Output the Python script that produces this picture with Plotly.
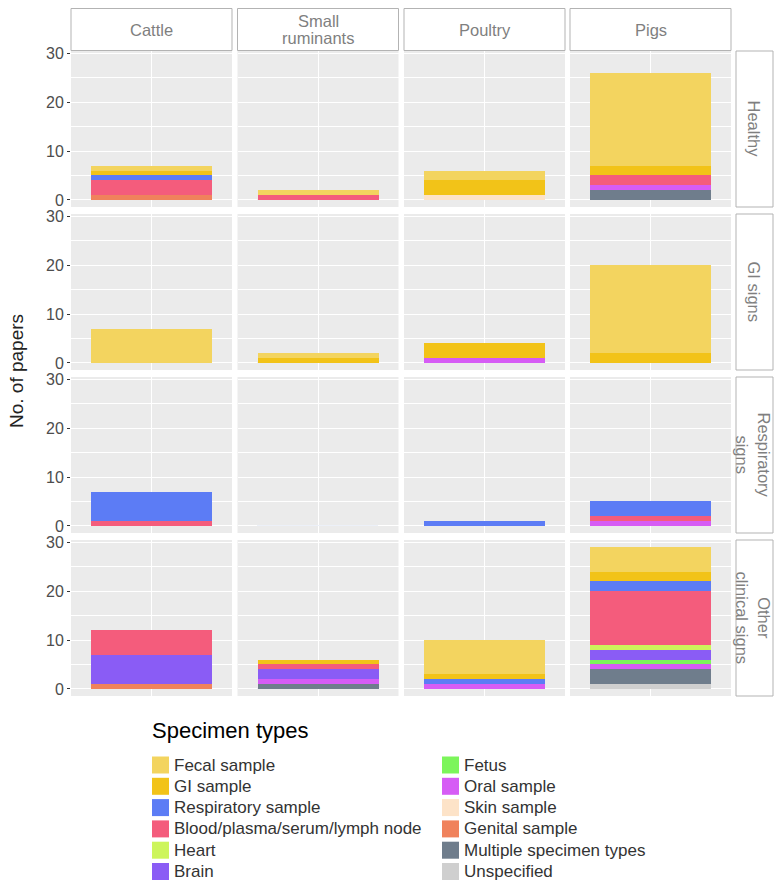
import plotly.graph_objects as go

W, H = 781, 886

species = [["Cattle"], ["Small", "ruminants"], ["Poultry"], ["Pigs"]]
conditions = ["Healthy", "GI signs", "Respiratory<br>signs", "Other<br>clinical signs"]

specimen_types = ["Fecal sample", "GI sample", "Respiratory sample",
                  "Blood/plasma/serum/lymph node", "Heart", "Brain", "Fetus",
                  "Oral sample", "Skin sample", "Genital sample",
                  "Multiple specimen types", "Unspecified"]
colors = ["#F3D45F", "#F2C318", "#5C7CF5", "#F45C7C", "#CDF55B", "#8A5CF5",
          "#7CF55B", "#D65CF5", "#FDE3C8", "#F0825C", "#6F7D8C", "#CFCFCF"]

# values ordered: Healthy(C,SR,Po,Pi), GI signs(...), Respiratory(...), Other(...)
fecal       = [1, 1, 2, 19,  7, 1, 0, 18,  0, 0, 0, 0,  0, 0, 7, 5]
gi          = [1, 0, 3, 2,   0, 1, 3, 2,   0, 0, 0, 0,  0, 1, 1, 2]
respiratory = [1, 0, 0, 0,   0, 0, 0, 0,   6, 0, 1, 3,  0, 0, 1, 2]
blood       = [3, 1, 0, 2,   0, 0, 0, 0,   1, 0, 0, 1,  5, 1, 0, 11]
heart       = [0, 0, 0, 0,   0, 0, 0, 0,   0, 0, 0, 0,  0, 0, 0, 1]
brain       = [0, 0, 0, 0,   0, 0, 0, 0,   0, 0, 0, 0,  6, 2, 0, 2]
fetus       = [0, 0, 0, 0,   0, 0, 0, 0,   0, 0, 0, 0,  0, 0, 0, 1]
oral        = [0, 0, 0, 1,   0, 0, 1, 0,   0, 0, 0, 1,  0, 1, 1, 1]
skin        = [0, 0, 1, 0,   0, 0, 0, 0,   0, 0, 0, 0,  0, 0, 0, 0]
genital     = [1, 0, 0, 0,   0, 0, 0, 0,   0, 0, 0, 0,  1, 0, 0, 0]
multiple    = [0, 0, 0, 2,   0, 0, 0, 0,   0, 0, 0, 0,  0, 1, 0, 3]
unspecified = [0, 0, 0, 0,   0, 0, 0, 0,   0, 0, 0, 0,  0, 0, 0, 1]
values = [fecal, gi, respiratory, blood, heart, brain, fetus, oral, skin,
          genital, multiple, unspecified]

y_ticks = [0, 10, 20, 30]

col_px = [(71, 232), (237.5, 398.5), (404, 565), (570, 731)]
row_px = [(51, 207), (214, 370), (377, 533), (540, 696)]

FONT = "Liberation Sans, Arial, sans-serif"

fig = go.Figure()
layout = {}
for r in range(4):
    for c in range(4):
        n = r * 4 + c + 1
        xk = "xaxis" if n == 1 else f"xaxis{n}"
        yk = "yaxis" if n == 1 else f"yaxis{n}"
        xs = "x" if n == 1 else f"x{n}"
        ys = "y" if n == 1 else f"y{n}"
        x0, x1 = col_px[c]
        y0, y1 = row_px[r]
        layout[xk] = dict(domain=[x0 / W, x1 / W], range=[0.4, 1.6], anchor=ys,
                          tickvals=[1], showticklabels=False, showgrid=True,
                          gridcolor="white", gridwidth=1.4, zeroline=False,
                          ticks="", fixedrange=True, automargin=False)
        layout[yk] = dict(domain=[1 - y1 / H, 1 - y0 / H], range=[-1.45, 30.45],
                          anchor=xs, tickvals=y_ticks, showticklabels=(c == 0),
                          ticks="outside" if c == 0 else "", ticklen=3,
                          tickcolor="#333333",
                          tickfont=dict(size=16, color="#4D4D4D", family=FONT),
                          showgrid=True, gridcolor="white", gridwidth=1.4,
                          minor=dict(tickvals=[5, 15, 25], showgrid=True,
                                     gridcolor="white", gridwidth=0.6),
                          zeroline=False, fixedrange=True, automargin=False)
        # empty baseline trace so every panel gets its grey background
        fig.add_trace(go.Bar(x=[1], y=[0], width=0.9, xaxis=xs, yaxis=ys,
                             marker=dict(color="rgba(0,0,0,0)"),
                             showlegend=False, hoverinfo="skip"))

# add in reverse so that the first specimen type is stacked on top
for i in reversed(range(len(specimen_types))):
    name = specimen_types[i]
    for k in range(16):
        v = values[i][k]
        if v == 0:
            continue
        n = k + 1
        xs = "x" if n == 1 else f"x{n}"
        ys = "y" if n == 1 else f"y{n}"
        fig.add_trace(go.Bar(
            x=[1], y=[v], width=0.9, name=name,
            marker=dict(color=colors[i], line=dict(width=0)),
            xaxis=xs, yaxis=ys, showlegend=False,
        ))

shapes = []
annotations = []
# top strips
for c, lines in enumerate(species):
    x0, x1 = col_px[c]
    shapes.append(dict(type="rect", xref="paper", yref="paper",
                       x0=x0 / W, x1=x1 / W, y0=1 - 50.5 / H, y1=1 - 8.5 / H,
                       fillcolor="white", line=dict(color="#B3B3B3", width=1)))
    gap = 18
    start = 29.5 - gap * (len(lines) - 1) / 2
    for j, txt in enumerate(lines):
        annotations.append(dict(text=txt, xref="paper", yref="paper",
                                x=(x0 + x1) / 2 / W, y=1 - (start + j * gap) / H,
                                showarrow=False,
                                font=dict(size=16.5, color="#7F7F7F", family=FONT),
                                xanchor="center", yanchor="middle"))
# right strips
for r, cond in enumerate(conditions):
    y0, y1 = row_px[r]
    shapes.append(dict(type="rect", xref="paper", yref="paper",
                       x0=736 / W, x1=773 / W, y0=1 - y1 / H, y1=1 - y0 / H,
                       fillcolor="white", line=dict(color="#B3B3B3", width=1)))
    annotations.append(dict(text=cond, xref="paper", yref="paper",
                            x=753.5 / W, y=1 - (y0 + y1) / 2 / H, showarrow=False,
                            textangle=90,
                            font=dict(size=16.5, color="#7F7F7F", family=FONT),
                            xanchor="center", yanchor="middle"))
# y-axis title
annotations.append(dict(text="No. of papers", xref="paper", yref="paper",
                        x=16 / W, y=1 - 371 / H, showarrow=False, textangle=-90,
                        font=dict(size=19, color="#222222", family=FONT),
                        xanchor="center", yanchor="middle"))
# legend title
annotations.append(dict(text="Specimen types", xref="paper", yref="paper",
                        x=150 / W, y=1 - 730 / H, showarrow=False,
                        font=dict(size=22, color="#000000", family=FONT),
                        xanchor="left", yanchor="middle"))
# legend (two columns of six)
for i, name in enumerate(specimen_types):
    col, row = divmod(i, 6)
    sx = 152 + col * 290
    cy = 765 + row * 21.3
    shapes.append(dict(type="rect", xref="paper", yref="paper",
                       x0=sx / W, x1=(sx + 17) / W,
                       y0=1 - (cy + 8.5) / H, y1=1 - (cy - 8.5) / H,
                       fillcolor=colors[i], line=dict(width=0)))
    annotations.append(dict(text=name, xref="paper", yref="paper",
                            x=(sx + 20) / W, y=1 - cy / H, showarrow=False,
                            font=dict(size=17, color="#333333", family=FONT),
                            xanchor="left", yanchor="middle"))

fig.update_layout(
    width=W, height=H,
    margin=dict(l=0, r=0, t=0, b=0, autoexpand=False),
    paper_bgcolor="white",
    plot_bgcolor="#EBEBEB",
    barmode="stack",
    bargap=0,
    showlegend=False,
    font=dict(family=FONT),
    shapes=shapes,
    annotations=annotations,
    **layout,
)

fig.write_html("out.html",
               config={"displayModeBar": False},
               post_script="document.body.style.margin='0';"
                           "document.body.style.overflow='hidden';")
